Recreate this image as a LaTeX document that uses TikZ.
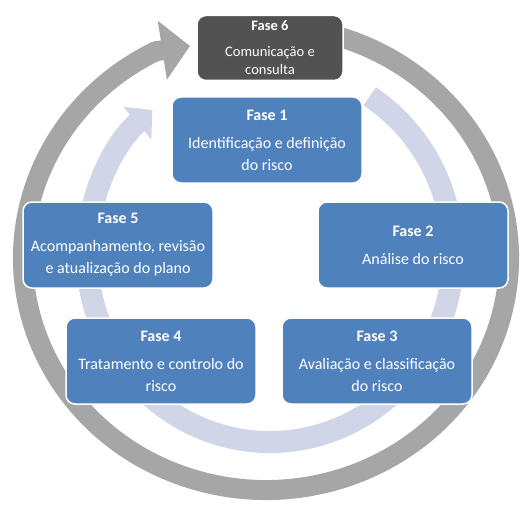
\documentclass[tikz,border=0pt]{standalone}
\usepackage{fontspec}
\setmainfont{Carlito}
\usetikzlibrary{arrows.meta, positioning}
\definecolor{faseblue}{RGB}{79,129,189}
\definecolor{darkbox}{RGB}{82,82,82}
\definecolor{ringgrey}{RGB}{166,166,166}
\definecolor{ringblue}{RGB}{208,214,232}

\begin{document}
\begin{tikzpicture}[
        x=1pt, y=1pt,
        fase/.style={draw=white, line width=1.5pt, fill=faseblue, rounded corners=9pt, minimum width=190pt, minimum height=86pt, text=white, align=center, font=\fontsize{16}{22}\selectfont},
        fasetop/.style={fase, fill=darkbox, minimum width=146pt, minimum height=65pt, font=\fontsize{14.5}{18.5}\selectfont},
        outring/.style={line width=20pt, ringgrey, line join=round, -{Triangle[width=58pt, length=28pt]}},
        inring/.style={line width=22pt, ringblue, -{Triangle[width=42pt, length=20pt]}}
    ]
        \useasboundingbox (0,0) rectangle (521,504);

        % the two cycle rings
        \coordinate (tip) at (190,458);
        \draw[outring] (266,246) ++(72:243pt and 232pt)
            arc[start angle=72, end angle=-243, x radius=243pt, y radius=232pt] -- (tip);
        \draw[inring] (270,250) ++(57:183pt and 188pt)
            arc[start angle=57, end angle=-230, x radius=183pt, y radius=188pt];

        % phases
        \node[fasetop] (f6) at (270,456) {\textbf{Fase 6}\\[7pt]Comunicação e\\consulta};
        \node[fase] (f1) at (267,364) {\textbf{Fase 1}\\[6pt]Identificação e definição\\do risco};
        \node[fase] (f2) at (413,259) {\textbf{Fase 2}\\[6pt]Análise do risco};
        \node[fase] (f3) at (377,143) {\textbf{Fase 3}\\[6pt]Avaliação e classificação\\do risco};
        \node[fase] (f4) at (161,143) {\textbf{Fase 4}\\[6pt]Tratamento e controlo do\\risco};
        \node[fase] (f5) at (118,259) {\textbf{Fase 5}\\[6pt]Acompanhamento, revisão\\e atualização do plano};
    \end{tikzpicture}
\end{document}
